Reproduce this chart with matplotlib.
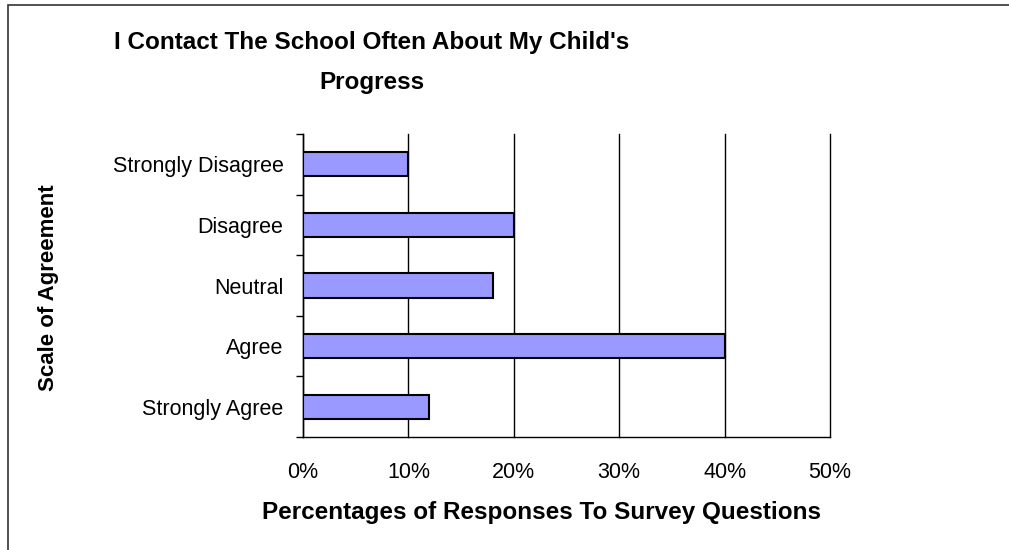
import matplotlib
matplotlib.use("Agg")
import matplotlib.pyplot as plt
from matplotlib.patches import Rectangle

categories = ["Strongly Agree", "Agree", "Neutral", "Disagree", "Strongly Disagree"]
values = [12, 40, 18, 20, 10]
xticks = [0, 10, 20, 30, 40, 50]
xlabels = ["0%", "10%", "20%", "30%", "40%", "50%"]

plt.rcParams['font.family'] = ['Liberation Sans', 'DejaVu Sans']

fig = plt.figure(figsize=(10.09, 5.5), dpi=100)
ax = fig.add_axes([303/1009, 1 - 437/550, 527/1009, 303/550])

ax.barh(range(len(categories)), values, height=0.4, color="#9999ff",
        edgecolor="black", linewidth=1.5, zorder=3)

ax.set_xlim(0, 50)
ax.set_ylim(-0.5, len(categories) - 0.5)
ax.set_xticks(xticks)
ax.set_xticklabels(xlabels, fontsize=15.5)
ax.set_yticks(range(len(categories)))
ax.set_yticklabels(categories, fontsize=15.5)
ax.set_yticks([i - 0.5 for i in range(len(categories) + 1)], minor=True)
ax.tick_params(axis="y", which="major", length=0, pad=14)
ax.tick_params(axis="y", which="minor", length=5, width=1, direction="out")
ax.tick_params(axis="x", length=0, pad=18)
ax.grid(axis="x", color="black", linewidth=1, zorder=0)
for gl in ax.get_xgridlines():
    gl.set_clip_on(False)
for s in ["top", "right"]:
    ax.spines[s].set_visible(False)
ax.spines["left"].set_linewidth(1)
ax.spines["bottom"].set_linewidth(1)

fig.text(372/1009, 1 - 42/550, "I Contact The School Often About My Child's",
         ha="center", va="center", fontsize=17.5, fontweight="bold")
fig.text(372/1009, 1 - 82/550, "Progress",
         ha="center", va="center", fontsize=17.5, fontweight="bold")
fig.text(542/1009, 1 - 513/550, "Percentages of Responses To Survey Questions",
         ha="center", va="center", fontsize=17.5, fontweight="bold")
fig.text(49/1009, 1 - 288/550, "Scale of Agreement", rotation=90,
         ha="center", va="center", fontsize=16, fontweight="bold")

fig.patches.append(Rectangle((8/1009, -0.1), 1.2, 1 - 5/550 + 0.1, transform=fig.transFigure,
                             fill=False, edgecolor="#333333", linewidth=1.2))

fig.savefig("out.png", dpi=100)
